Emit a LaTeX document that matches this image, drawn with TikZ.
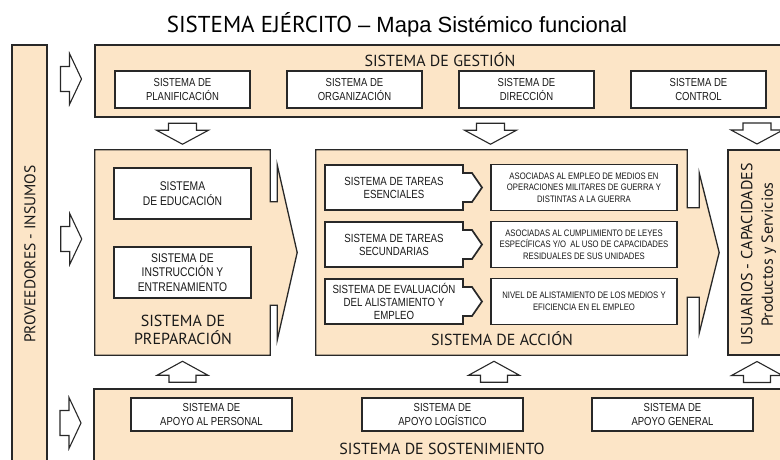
\documentclass[tikz,border=0pt]{standalone}
\usepackage{fontspec}
\setmainfont{Liberation Sans}
\newfontfamily\labelsf{PT Sans}
\newfontfamily\narrowsf[FakeStretch=0.82]{Liberation Sans}
\usetikzlibrary{positioning,calc}
\definecolor{peach}{RGB}{252,229,199}
\definecolor{edge}{RGB}{40,40,40}

\begin{document}
\begin{tikzpicture}[x=1pt,y=-1pt,
  bigbox/.style={draw=edge,line width=1.3pt,fill=peach,inner sep=0pt},
  sysbox/.style={draw=edge,line width=1.7pt,fill=white,align=center,inner sep=0pt,outer sep=0pt,text=black!90},
  gesttxt/.style={font=\narrowsf\fontsize{11.6}{13.5}\selectfont},
  preptxt/.style={font=\narrowsf\fontsize{12.6}{14.5}\selectfont},
  tareatxt/.style={font=\narrowsf\fontsize{11.8}{13}\selectfont},
  asoctxt/.style={font=\narrowsf\fontsize{9.4}{11.5}\selectfont},
  biglabel/.style={font=\labelsf\fontsize{16}{18}\selectfont,text=black!90,align=center},
  blockarr/.style={draw=edge,line width=1.1pt,fill=white},
  downarr/.pic={\draw[blockarr] (-14,-10.5) -- (-14,-3.5) -- (-26,-3.5) -- (0,10.5) -- (26,-3.5) -- (14,-3.5) -- (14,-10.5) -- cycle;},
  uparr/.pic={\draw[blockarr] (-13.5,10.5) -- (-13.5,3.5) -- (-25.5,3.5) -- (0,-10.5) -- (25.5,3.5) -- (13.5,3.5) -- (13.5,10.5) -- cycle;},
  rightarr/.pic={\draw[blockarr] (-10.5,-12.5) -- (-1.5,-12.5) -- (-1.5,-25.5) -- (10.5,0) -- (-1.5,25.5) -- (-1.5,12.5) -- (-10.5,12.5) -- cycle;}]
  \clip (0,0) rectangle (780,459);

  \node[anchor=base,font=\fontsize{22}{26}\selectfont,text=black] (title) at (397,32)
    {{\labelsf\fontsize{23}{26}\selectfont SISTEMA EJÉRCITO} – Mapa Sistémico funcional};

  % outer blocks
  \node[bigbox,minimum width=35pt,minimum height=425pt] (prov) at (29.5,257.5) {};
  \node[biglabel,rotate=90,font=\labelsf\fontsize{15.5}{18}\selectfont] (provlbl) at ($(prov)+(0.5,-3.5)$) {PROVEEDORES - INSUMOS};

  \node[bigbox,minimum width=705pt,minimum height=72pt] (gest) at (447.5,81) {};
  \node[biglabel,anchor=base] (gestlbl) at (440,66) {SISTEMA DE GESTIÓN};

  \node[minimum width=175pt,minimum height=205pt,inner sep=0pt] (prep) at (182.5,252.5) {};
  \draw[bigbox] (prep.north west) -- (prep.north east) -- ++(0,52) -- ++(7,0) -- ++(0,-37)
    -- ($(prep.east)+(27,0)$) -- ($(prep.south east)+(7,-15)$) -- ++(0,-35) -- ++(-7,0)
    -- (prep.south east) -- (prep.south west) -- cycle;
  \node[biglabel] (preplbl) at (183,329.5) {SISTEMA DE\\PREPARACIÓN};

  \node[minimum width=371pt,minimum height=205pt,inner sep=0pt] (acc) at (501.5,252.5) {};
  \draw[bigbox] (acc.north west) -- (acc.north east) -- ++(0,58) -- ++(12,0) -- ++(0,-35)
    -- ($(acc.east)+(32,0)$) -- ($(acc.south east)+(12,-22)$) -- ++(0,-36) -- ++(-12,0)
    -- (acc.south east) -- (acc.south west) -- cycle;
  \node[biglabel,anchor=base] (acclbl) at (502,345) {SISTEMA DE ACCIÓN};

  \node[bigbox,minimum width=58pt,minimum height=205pt] (usu) at (757,252.5) {};
  \node[biglabel,rotate=90,font=\labelsf\fontsize{16}{20.5}\selectfont] (usulbl) at (758.5,254.5) {USUARIOS - CAPACIDADES\\Productos y Servicios};

  \node[bigbox,minimum width=706pt,minimum height=81pt] (sost) at (447,429.5) {};
  \node[biglabel] (sostlbl) at (442,448.5) {SISTEMA DE SOSTENIMIENTO};

  % gestion
  \node[sysbox,gesttxt,minimum width=135pt,minimum height=37pt] (plan) at (182.5,89.5) {SISTEMA DE\\PLANIFICACIÓN};
  \node[sysbox,gesttxt,minimum width=135pt,minimum height=37pt,right=37pt of plan] (org) {SISTEMA DE\\ORGANIZACIÓN};
  \node[sysbox,gesttxt,minimum width=135pt,minimum height=37pt,right=37pt of org] (dir) {SISTEMA DE\\DIRECCIÓN};
  \node[sysbox,gesttxt,minimum width=135pt,minimum height=37pt,right=37pt of dir] (ctrl) {SISTEMA DE\\CONTROL};

  % preparacion
  \node[sysbox,preptxt,minimum width=137pt,minimum height=51pt] (edu) at (182.5,193.5) {SISTEMA\\DE EDUCACIÓN};
  \node[sysbox,preptxt,minimum width=137pt,minimum height=51pt,below=28pt of edu] (instr) {SISTEMA DE\\INSTRUCCIÓN Y\\ENTRENAMIENTO};

  % accion
  \node[sysbox,tareatxt,minimum width=138pt,minimum height=45pt] (tar1) at (394,187.5) {SISTEMA DE TAREAS\\ESENCIALES};
  \node[sysbox,tareatxt,minimum width=138pt,minimum height=45pt,below=12pt of tar1] (tar2) {SISTEMA DE TAREAS\\SECUNDARIAS};
  \node[sysbox,tareatxt,minimum width=138pt,minimum height=45pt,below=12pt of tar2] (eva) {SISTEMA DE EVALUACIÓN\\DEL ALISTAMIENTO Y\\EMPLEO};
  \foreach \b in {tar1,tar2,eva} {
    \fill[white] ($(\b.north east)+(-0.9,8.9)$) rectangle ($(\b.south east)+(0.9,-8.9)$);
    \filldraw[fill=white,draw=edge,line width=1.7pt] ($(\b.north east)+(0,8)$) -- ++(9,0)
      -- ($(\b.east)+(19,0)$) -- ($(\b.south east)+(9,-8)$) -- ++(-9,0);
  }
  \node[sysbox,asoctxt,minimum width=186pt,minimum height=46pt,right=28pt of tar1] (asoc1) {ASOCIADAS AL EMPLEO DE MEDIOS EN\\OPERACIONES MILITARES DE GUERRA Y\\DISTINTAS A LA GUERRA};
  \node[sysbox,asoctxt,minimum width=186pt,minimum height=46pt,right=28pt of tar2] (asoc2) {ASOCIADAS AL CUMPLIMIENTO DE LEYES\\ESPECÍFICAS Y/O\ \ AL USO DE CAPACIDADES\\RESIDUALES DE SUS UNIDADES};
  \node[sysbox,asoctxt,minimum width=186pt,minimum height=46pt,right=28pt of eva] (nivel) {NIVEL DE ALISTAMIENTO DE LOS MEDIOS Y\\EFICIENCIA EN EL EMPLEO};

  % sostenimiento
  \node[sysbox,gesttxt,minimum width=161pt,minimum height=33pt] (pers) at (211.5,414.5) {SISTEMA DE\\APOYO AL PERSONAL};
  \node[sysbox,gesttxt,minimum width=161pt,minimum height=33pt,right=70pt of pers] (log) {SISTEMA DE\\APOYO LOGÍSTICO};
  \node[sysbox,gesttxt,minimum width=161pt,minimum height=33pt,right=69pt of log] (gen) {SISTEMA DE\\APOYO GENERAL};

  % block arrows
  \path ($(gest.south -| prep.north)!.5!(prep.north)$) pic {downarr};
  \path ($(gest.south -| acc.north)!.5!(acc.north)+(-11,0)$) pic {downarr};
  \path ($(gest.south -| usu.north)!.5!(usu.north)$) pic {downarr};
  \path ($(prep.south)!.5!(prep.south |- sost.north)$) pic {uparr};
  \path ($(acc.south)!.5!(acc.south |- sost.north)+(-7.5,0)$) pic {uparr};
  \path ($(usu.south)!.5!(usu.south |- sost.north)$) pic {uparr};
  \path ($(prov.east |- gest.west)!.5!(gest.west)+(0,-2)$) pic {rightarr};
  \path ($(prov.east |- prep.west)!.5!(prep.west)+(0,-13.5)$) pic {rightarr};
  \path ($(prov.east |- sost.west)!.5!(sost.west)+(0,-6.5)$) pic {rightarr};
\end{tikzpicture}
\end{document}
